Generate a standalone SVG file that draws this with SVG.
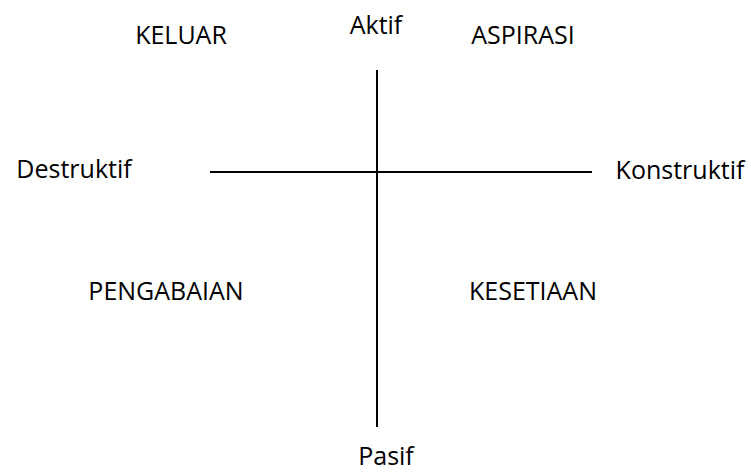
<svg xmlns="http://www.w3.org/2000/svg" width="751" height="473" viewBox="0 0 751 473">
<style>
text{font-family:"Open Sans","Liberation Sans",Arial,sans-serif;font-size:25px;fill:#000;text-anchor:middle}
.ax{stroke:#000;stroke-width:2;fill:none}
</style>
<rect width="751" height="473" fill="#fff"/>
<g id="connectors">
<line class="ax" x1="377" y1="70" x2="377" y2="427"/>
<line class="ax" x1="210" y1="172" x2="592" y2="172"/>
</g>
<g id="aktif"><text x="376" y="34">Aktif</text></g>
<g id="pasif"><text x="386" y="465">Pasif</text></g>
<g id="destruktif"><text x="74" y="178">Destruktif</text></g>
<g id="konstruktif"><text x="680" y="179">Konstruktif</text></g>
<g id="keluar"><text x="181" y="44">KELUAR</text></g>
<g id="aspirasi"><text x="523" y="44">ASPIRASI</text></g>
<g id="pengabaian"><text x="166" y="300">PENGABAIAN</text></g>
<g id="kesetiaan"><text x="533" y="300">KESETIAAN</text></g>
</svg>
